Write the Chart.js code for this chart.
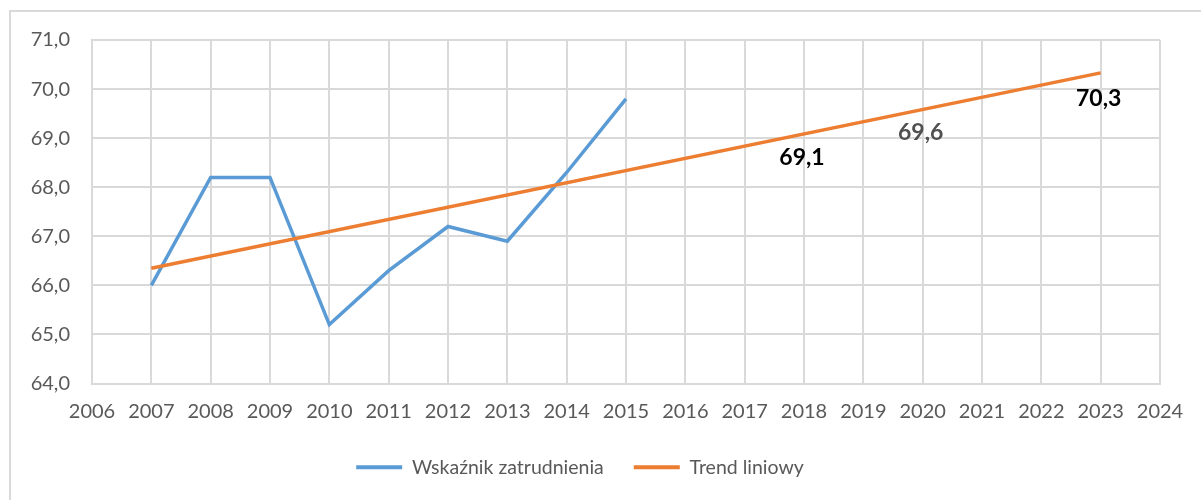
<!DOCTYPE html>
<html>
<head>
<meta charset="utf-8">
<script src="https://cdn.jsdelivr.net/npm/chart.js@4/dist/chart.umd.min.js"></script>
<style>
  html, body { margin: 0; padding: 0; background: #fff; }
  #wrap { width: 1201px; height: 500px; }
</style>
</head>
<body>
<div id="wrap"><canvas id="trendChart" width="1201" height="500"></canvas></div>
<script>
// employment rate 2007-2015 + linear trend
const years = [2007, 2008, 2009, 2010, 2011, 2012, 2013, 2014, 2015];
const employmentRate = [66.0, 68.2, 68.2, 65.2, 66.3, 67.2, 66.9, 68.3, 69.8];
const trendYears = [2007, 2023];
const trendValues = [66.35, 70.33];
const labelYears = [2018, 2020, 2023];
const labelValues = [69.1, 69.6, 70.3];
const labelColors = ['#000000', '#505050', '#000000'];

const blueColor = 'rgb(91, 155, 213)';
const orangeColor = 'rgb(237, 125, 49)';
const gridColor = '#d9d9d9';
const textColor = '#595959';
const fontFamily = 'Lato, "Open Sans", sans-serif';

const fmt = (v) => v.toFixed(1).replace('.', ',');

// outer frame of the chart
const framePlugin = {
    id: 'frame',
    beforeDraw(chart) {
        const ctx = chart.ctx;
        ctx.save();
        ctx.strokeStyle = gridColor;
        ctx.lineWidth = 2;
        ctx.strokeRect(10, 11, 1400, 700);
        ctx.restore();
    }
};

// the bold values written under the trend line
const valueLabels = {
    id: 'valueLabels',
    afterDatasetsDraw(chart) {
        const ctx = chart.ctx;
        const xs = chart.scales.x;
        const ys = chart.scales.y;
        ctx.save();
        ctx.font = 'bold 23px ' + fontFamily;
        ctx.textAlign = 'center';
        ctx.textBaseline = 'middle';
        labelYears.forEach((yr, i) => {
            ctx.fillStyle = labelColors[i];
            ctx.fillText(fmt(labelValues[i]), xs.getPixelForValue(yr) - 2, ys.getPixelForValue(labelValues[i]) + 24);
        });
        ctx.restore();
    }
};

const config = {
    type: 'line',
    data: {
        datasets: [
            {
                label: 'Wskaźnik zatrudnienia',
                data: years.map((y, i) => ({ x: y, y: employmentRate[i] })),
                borderColor: blueColor,
                backgroundColor: blueColor,
                borderWidth: 3.5,
                pointRadius: 0,
                tension: 0,
                order: 2
            },
            {
                label: 'Trend liniowy',
                data: trendYears.map((y, i) => ({ x: y, y: trendValues[i] })),
                borderColor: orangeColor,
                backgroundColor: orangeColor,
                borderWidth: 3.5,
                pointRadius: 0,
                order: 1
            }
        ]
    },
    options: {
        responsive: false,
        animation: false,
        devicePixelRatio: 1,
        layout: {
            padding: { left: 0, top: 40, right: 41, bottom: 13 }
        },
        plugins: {
            tooltip: { enabled: false },
            legend: {
                display: true,
                position: 'bottom',
                labels: {
                    boxWidth: 46,
                    boxHeight: 4,
                    padding: 30,
                    color: textColor,
                    font: { family: fontFamily, size: 19.5 },
                    sort: (a, b) => a.datasetIndex - b.datasetIndex,
                    generateLabels(chart) {
                        const items = Chart.defaults.plugins.legend.labels.generateLabels(chart);
                        items.forEach(it => { it.lineWidth = 0; });
                        return items;
                    }
                }
            }
        },
        scales: {
            x: {
                type: 'linear',
                min: 2006,
                max: 2024,
                grid: { color: gridColor, lineWidth: 2, drawTicks: false },
                border: { color: gridColor, width: 2 },
                ticks: {
                    stepSize: 1,
                    padding: 16,
                    color: textColor,
                    font: { family: fontFamily, size: 20 },
                    maxRotation: 0,
                    autoSkip: false,
                    callback: (v) => String(v)
                },
                afterFit: (scale) => { scale.height = 44; }
            },
            y: {
                min: 64,
                max: 71,
                grid: { color: gridColor, lineWidth: 2, drawTicks: false },
                border: { color: gridColor, width: 2 },
                ticks: {
                    stepSize: 1,
                    padding: 22,
                    color: textColor,
                    font: { family: fontFamily, size: 20 },
                    callback: (v) => fmt(v)
                },
                afterFit: (scale) => { scale.width = 92; }
            }
        }
    },
    plugins: [framePlugin, valueLabels]
};

new Chart('trendChart', config);
</script>
</body>
</html>
